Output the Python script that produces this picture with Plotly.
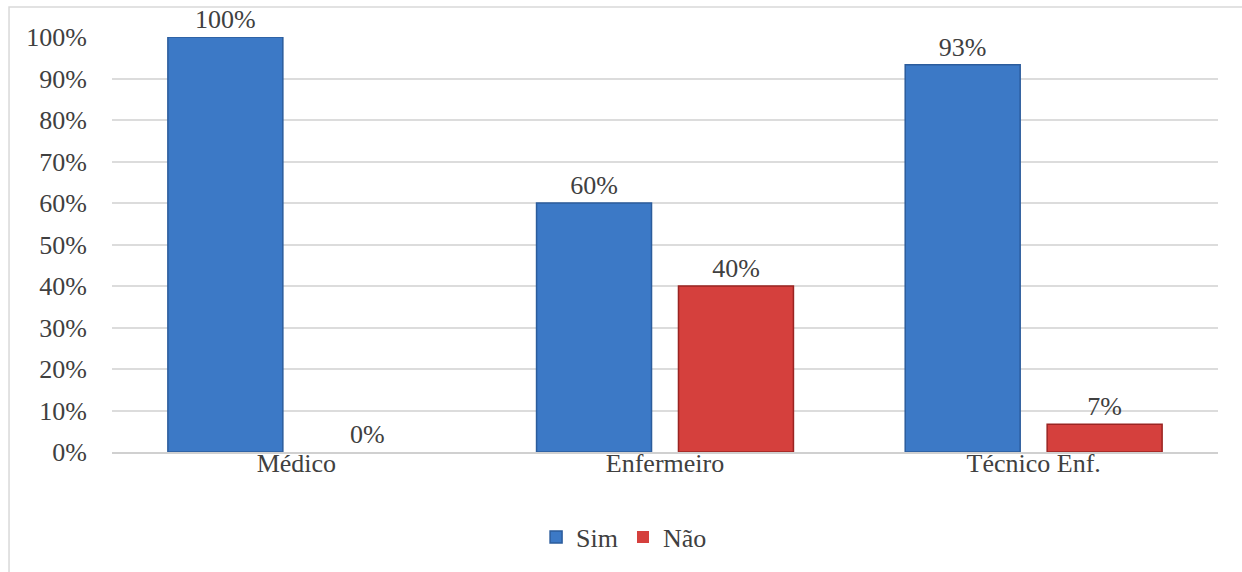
import plotly.graph_objects as go

categories = ["Médico", "Enfermeiro", "Técnico Enf."]
sim_values = [100, 60, 93.3]
nao_values = [0, 40, 6.7]
y_ticks = [0, 10, 20, 30, 40, 50, 60, 70, 80, 90, 100]
y_tick_labels = [f"{v}%" for v in y_ticks]

FONT = "'Times New Roman', 'Liberation Serif', serif"
TEXT_COLOR = "#404040"
SIZE = 26

fig = go.Figure()
fig.add_trace(go.Bar(
    name="Sim", x=categories, y=sim_values,
    marker=dict(color="#3C79C6", line=dict(color="#2B5C9C", width=1.5)),
    texttemplate="%{y:.0f}%", textposition="outside", cliponaxis=False,
    textfont=dict(family=FONT, size=SIZE, color=TEXT_COLOR),
))
fig.add_trace(go.Bar(
    name="Não", x=categories, y=nao_values,
    marker=dict(color="#D5403D",
                line=dict(color="#9A2422", width=[0 if v == 0 else 1.5 for v in nao_values])),
    texttemplate="%{y:.0f}%", textposition="outside", cliponaxis=False,
    textfont=dict(family=FONT, size=SIZE, color=TEXT_COLOR),
))

fig.update_layout(
    width=1242, height=572,
    margin=dict(l=112, r=24, t=37, b=120),
    paper_bgcolor="white", plot_bgcolor="white",
    barmode="group", bargap=0.23, bargroupgap=0.19,
    font=dict(family=FONT, size=SIZE, color=TEXT_COLOR),
    showlegend=True,
    legend=dict(orientation="h", x=0.463, xanchor="center", y=-0.205, yanchor="middle",
                font=dict(family=FONT, size=SIZE, color=TEXT_COLOR),
                itemwidth=30, traceorder="normal"),
    xaxis=dict(showgrid=False, showline=True, linecolor="#D0D0D0", linewidth=2,
               ticks="", tickfont=dict(family=FONT, size=SIZE, color=TEXT_COLOR),
               ticklabelstandoff=-13),
    yaxis=dict(range=[0, 100], tickvals=y_ticks, ticktext=y_tick_labels,
               showgrid=True, gridcolor="#DCDCDC", gridwidth=1.5,
               zeroline=False, showline=False, ticks="",
               tickfont=dict(family=FONT, size=SIZE, color=TEXT_COLOR),
               ticklabelstandoff=24),
    shapes=[dict(type="rect", xref="paper", yref="paper",
                 x0=-0.0931, x1=1.2, y0=-0.5, y1=1.0723,
                 line=dict(color="#D9D9D9", width=1.5), layer="below")],
)

fig.write_html("out.html")
